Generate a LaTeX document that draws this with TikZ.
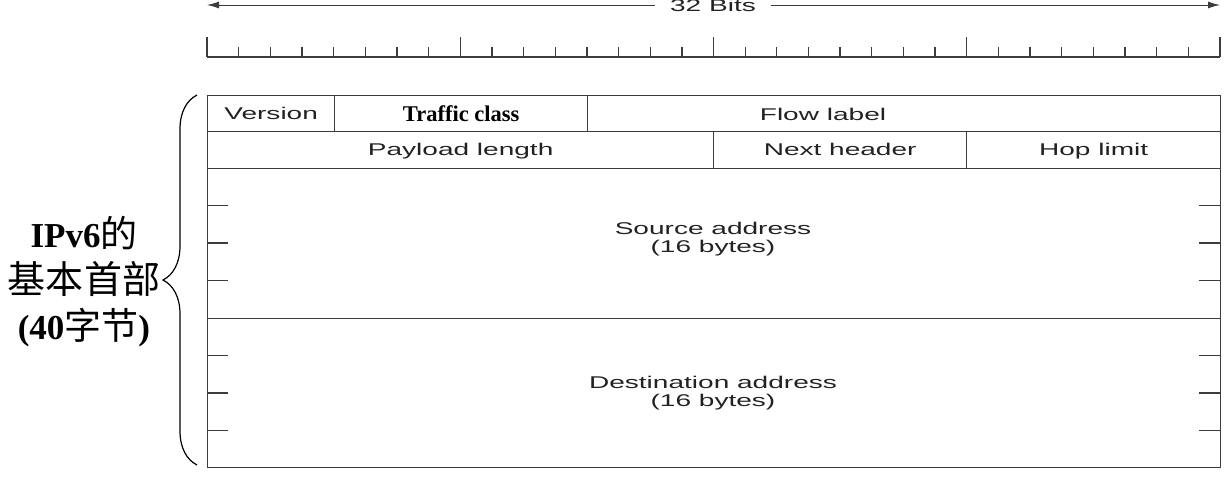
\documentclass[tikz,border=0pt]{standalone}
\usepackage{fontspec}
\setmainfont{Liberation Serif}
\setsansfont{Liberation Sans}
\newfontfamily\cjk{Noto Sans CJK SC}
\usetikzlibrary{arrows.meta,decorations.pathreplacing}

\definecolor{rulegray}{HTML}{3C3C3C}
\definecolor{textgray}{HTML}{222222}
\newcommand{\widesf}[1]{\scalebox{1.65}[1]{#1}}

\tikzset{
  field/.style={draw=rulegray, line width=1.3pt, anchor=north west, inner sep=0pt,
    font=\fontsize{17}{18}\selectfont\sffamily, text=textgray,
    text height=14.5pt, text depth=3.5pt},
  fieldtext/.style={align=center, inner sep=0pt,
    font=\fontsize{17}{18}\selectfont\sffamily, text=textgray},
  tick/.style={rulegray, line width=1.3pt},
}

\begin{document}
\begin{tikzpicture}[x=1pt, y=-1pt]
  \useasboundingbox (0,0) rectangle (1225,477);

  % Width arrow
  \node[fieldtext, fill=white, inner xsep=15pt, inner ysep=1pt] (bits) at (713,5) {\widesf{32 Bits}};
  \coordinate (bitsL) at (207,5);
  \coordinate (bitsR) at (1220,5);
  \draw[tick, line width=1pt, -{Latex[length=12pt,width=7pt]}] (bits) -- (bitsL);
  \draw[tick, line width=1pt, -{Latex[length=12pt,width=7pt]}] (bits) -- (bitsR);

  % Ruler
  \draw[tick] (207,57) -- (1220,57);
  \foreach \b in {1,...,31} \draw[tick] (207+\b*31.656,57) -- ++(0,-10);
  \foreach \b in {0,8,...,32} \draw[tick] (207+\b*31.656,57) -- ++(0,-20);

  % Fields
  \node[field, minimum width=127, minimum height=36] (version) at (207,95) {\widesf{Version}};
  \node[field, minimum width=253, minimum height=36, text=black, text height=19pt, text depth=3pt,
        font=\fontsize{22.5}{23}\selectfont\bfseries] (traffic) at (334,95) {Traffic class};
  \node[field, minimum width=633, minimum height=36] (flow) at (587,95) {};
  \node[fieldtext] (flowtext) at (823,114) {\widesf{Flow label}};

  \node[field, minimum width=506, minimum height=37] (payload) at (207,131) {\widesf{Payload length}};
  \node[field, minimum width=253, minimum height=37] (nexthdr) at (713,131) {\widesf{Next header}};
  \node[field, minimum width=254, minimum height=37] (hoplim) at (966,131) {\widesf{Hop limit}};

  \node[field, minimum width=1013, minimum height=150] (src) at (207,168) {};
  \node[field, minimum width=1013, minimum height=149] (dst) at (207,318) {};
  \node[fieldtext] (srctext) at (713,239) {\widesf{Source address}\\\widesf{(16 bytes)}};
  \node[fieldtext] (dsttext) at (713,393) {\widesf{Destination address}\\\widesf{(16 bytes)}};

  % 32-bit word marks
  \foreach \y in {205.5,243,280.5,355.5,393,430.5} {
    \draw[tick] (207,\y) -- ++(21,0);
    \draw[tick] (1220,\y) -- ++(-21,0);
  }

  % Brace
  \coordinate (braceB) at (197,465);
  \coordinate (braceT) at (197,95);
  \draw[decorate, decoration={brace, amplitude=34pt}, line width=1.2pt] (braceB) -- (braceT);
  \node[align=center, inner sep=0pt, font=\fontsize{35}{46}\selectfont] (hdr) at (84,282)
    {\textbf{IPv6}{\cjk\fontsize{37}{46}\selectfont 的}\\{\cjk\fontsize{38}{46}\selectfont 基本首部}\\\textbf{(40}{\cjk\fontsize{37}{46}\selectfont 字节}\textbf{)}};

\end{tikzpicture}
\end{document}
